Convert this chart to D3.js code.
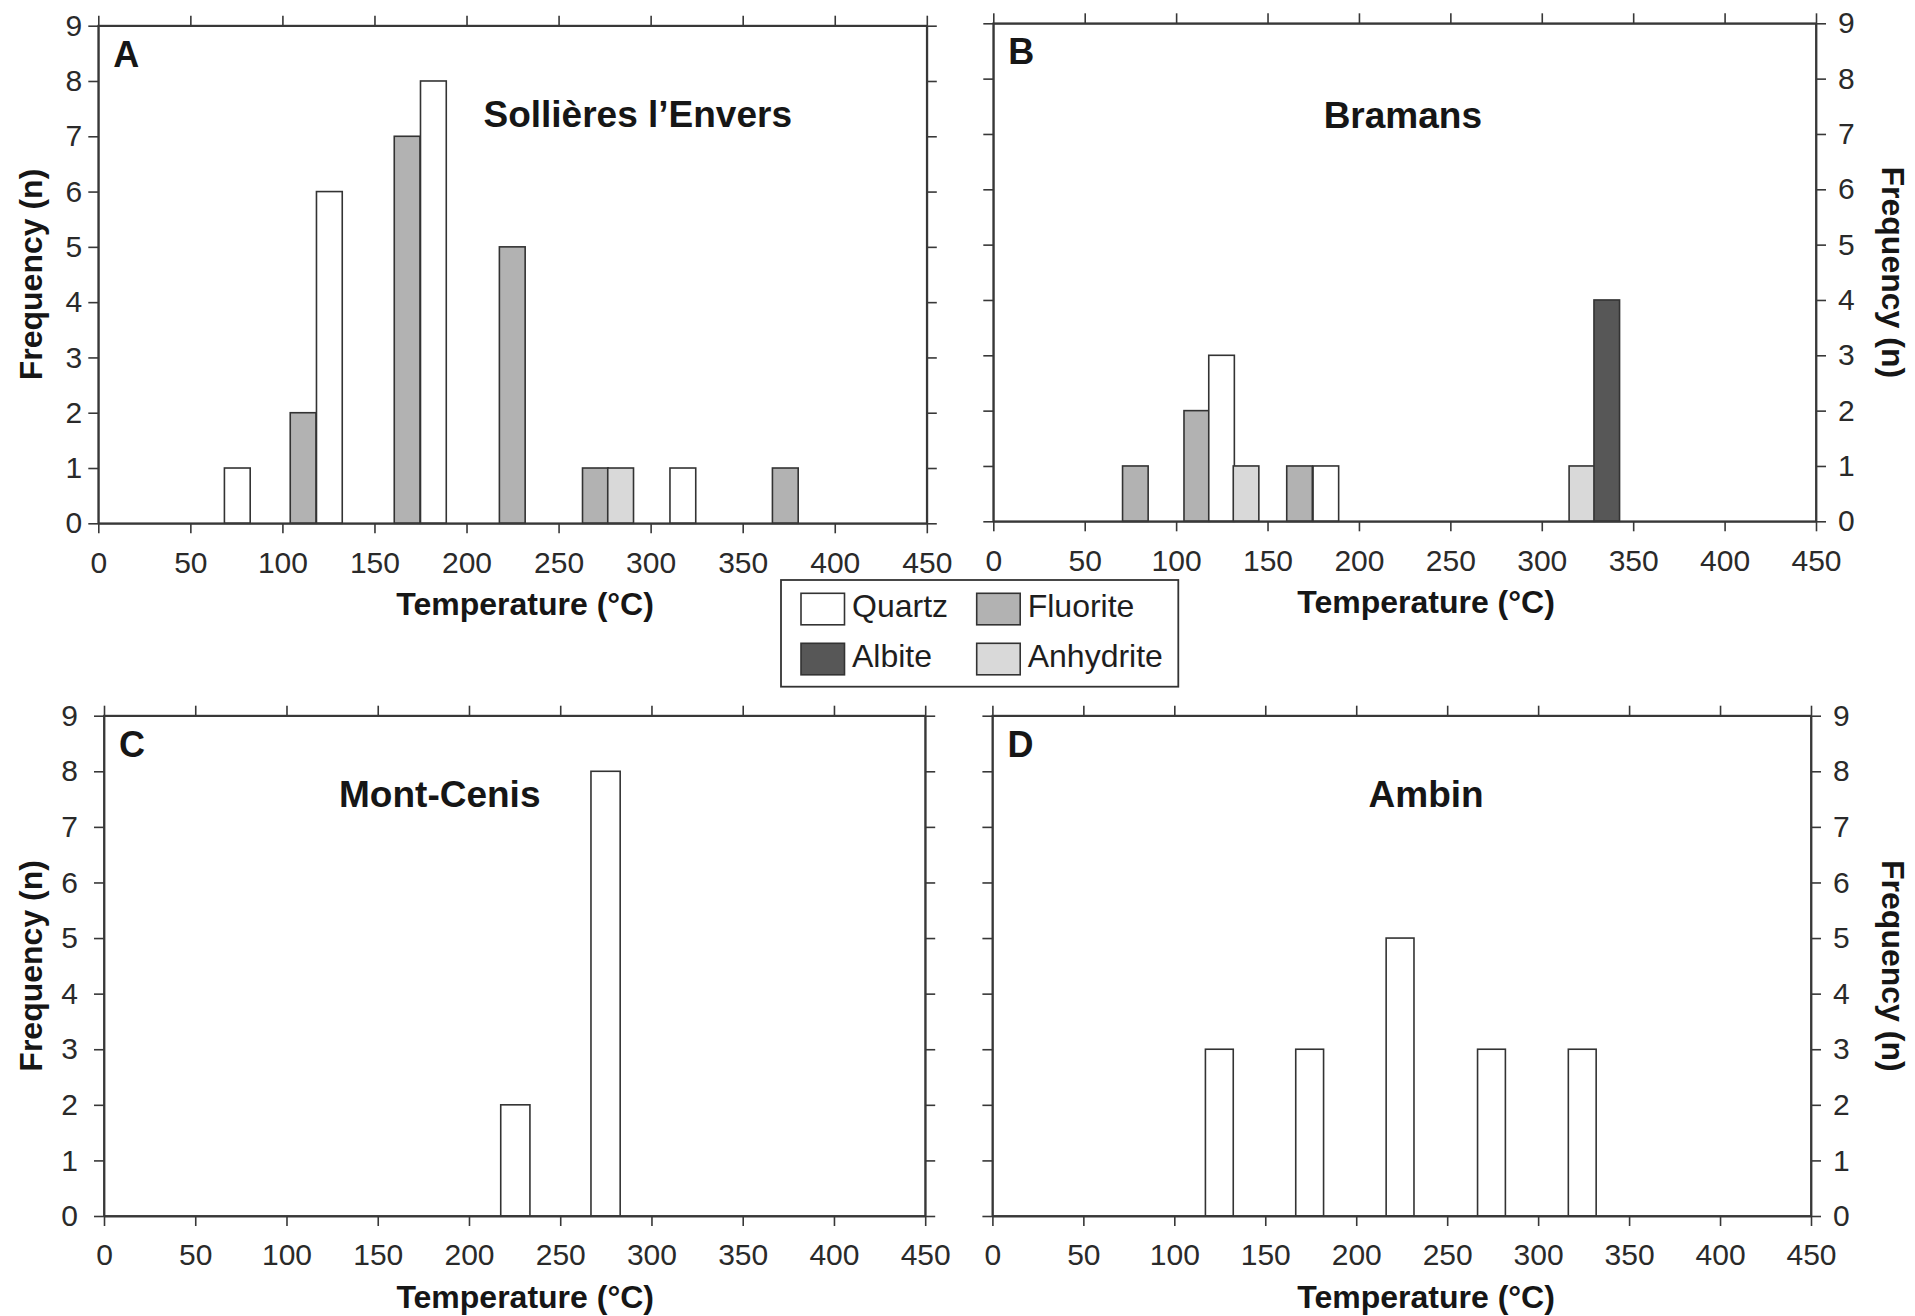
<!DOCTYPE html>
<html><head><meta charset="utf-8">
<script src="https://cdn.jsdelivr.net/npm/d3@7/dist/d3.min.js"></script>
<style>
html,body{margin:0;padding:0;background:#fff;}
svg{display:block;font-family:"Liberation Sans",Arial,Helvetica,sans-serif;}
</style></head><body>
<svg id="chart" width="1915" height="1316"></svg>
<script>
// ---------- data ----------
const minerals = ["Quartz", "Fluorite", "Albite", "Anhydrite"];
const mineralFills = ["#ffffff", "#b2b2b2", "#575757", "#d9d9d9"];
const tempTicks = [0, 50, 100, 150, 200, 250, 300, 350, 400, 450];
const freqTicks = [0, 1, 2, 3, 4, 5, 6, 7, 8, 9];

// A – Sollières l'Envers (bar centre temperature, mineral, count)
const sollieresTemp    = [75.5, 111.25, 125.5, 167.75, 182, 224.85, 270, 283.7, 317.5, 373.15];
const sollieresMineral = ["Quartz", "Fluorite", "Quartz", "Fluorite", "Quartz", "Fluorite", "Fluorite", "Anhydrite", "Quartz", "Fluorite"];
const sollieresCount   = [1, 2, 6, 7, 8, 5, 1, 1, 1, 1];

// B – Bramans
const bramansTemp    = [77.7, 111.3, 124.85, 138.25, 167.5, 181.9, 321.95, 335.55];
const bramansMineral = ["Fluorite", "Fluorite", "Quartz", "Anhydrite", "Fluorite", "Quartz", "Anhydrite", "Albite"];
const bramansCount   = [1, 2, 3, 1, 1, 1, 1, 4];

// C – Mont-Cenis
const montCenisTemp    = [225.4, 274.85];
const montCenisMineral = ["Quartz", "Quartz"];
const montCenisCount   = [2, 8];

// D – Ambin
const ambinTemp    = [124.75, 174.4, 224.1, 274.35, 324.25];
const ambinMineral = ["Quartz", "Quartz", "Quartz", "Quartz", "Quartz"];
const ambinCount   = [3, 3, 5, 3, 3];

// class widths (°C) of the bars in each panel
const classWidths = [14, 14, 16, 15.3];

const panelLetters = ["A", "B", "C", "D"];
const panelTitles = ["Sollières l’Envers", "Bramans", "Mont-Cenis", "Ambin"];
const xTitle = "Temperature (°C)";
const yTitle = "Frequency (n)";

// ---------- layout ----------
const panels = [
  {temp: sollieresTemp, mineral: sollieresMineral, count: sollieresCount,
   frame: {left: 98.3, right: 926.8, top: 25.7, bottom: 523.3}, side: "left", labelPad: 6,
   titleAt: [293, 7.17], xTitleAt: 231.8},
  {temp: bramansTemp, mineral: bramansMineral, count: bramansCount,
   frame: {left: 993.3, right: 1816, top: 23.3, bottom: 521.3}, side: "right", labelPad: 12,
   titleAt: [224, 7.11], xTitleAt: 236.7},
  {temp: montCenisTemp, mineral: montCenisMineral, count: montCenisCount,
   frame: {left: 104, right: 925.2, top: 715.7, bottom: 1216}, side: "left", labelPad: 16,
   titleAt: [184, 7.36], xTitleAt: 230.8},
  {temp: ambinTemp, mineral: ambinMineral, count: ambinCount,
   frame: {left: 992.4, right: 1811, top: 715.7, bottom: 1216}, side: "right", labelPad: 12,
   titleAt: [238.4, 7.35], xTitleAt: 238.4}
];

const svg = d3.select("#chart");
const axisColor = "#383838";
const fillOf = d3.scaleOrdinal().domain(minerals).range(mineralFills);

panels.forEach((p, i) => {
  const f = p.frame;
  const x = d3.scaleLinear().domain([0, 450]).range([f.left, f.right]);
  const y = d3.scaleLinear().domain([0, 9]).range([f.bottom, f.top]);
  const w = classWidths[i];
  const g = svg.append("g");

  const bars = p.temp.map((t, k) => ({t, m: p.mineral[k], n: p.count[k]}));
  g.selectAll("rect.bar").data(bars).join("rect")
    .attr("class", "bar")
    .attr("x", d => x(d.t - w / 2))
    .attr("width", d => x(d.t + w / 2) - x(d.t - w / 2))
    .attr("y", d => y(d.n))
    .attr("height", d => y(0) - y(d.n))
    .attr("fill", d => fillOf(d.m))
    .attr("stroke", "#333")
    .attr("stroke-width", 1.6);

  // frame
  g.append("rect")
    .attr("x", f.left).attr("y", f.top)
    .attr("width", f.right - f.left).attr("height", f.bottom - f.top)
    .attr("fill", "none").attr("stroke", axisColor).attr("stroke-width", 1.8);

  const styleAxis = sel => {
    sel.select(".domain").attr("stroke", axisColor).attr("stroke-width", 1.8);
    sel.selectAll(".tick line").attr("stroke", axisColor).attr("stroke-width", 1.6);
    sel.selectAll(".tick text").attr("fill", "#2a2a2a").attr("font-size", 30)
      .attr("font-family", '"Liberation Sans",Arial,sans-serif');
  };

  g.append("g").attr("transform", `translate(0,${f.bottom})`)
    .call(d3.axisBottom(x).tickValues(tempTicks).tickSize(10).tickSizeOuter(0).tickPadding(18))
    .call(styleAxis);
  g.append("g").attr("transform", `translate(0,${f.top})`)
    .call(d3.axisTop(x).tickValues(tempTicks).tickSize(10).tickSizeOuter(0).tickFormat(""))
    .call(styleAxis);
  g.append("g").attr("transform", `translate(${f.left},0)`)
    .call(d3.axisLeft(y).tickValues(freqTicks).tickSize(10).tickSizeOuter(0).tickPadding(p.labelPad)
      .tickFormat(p.side === "left" ? d3.format("d") : ""))
    .call(styleAxis);
  g.append("g").attr("transform", `translate(${f.right},0)`)
    .call(d3.axisRight(y).tickValues(freqTicks).tickSize(10).tickSizeOuter(0).tickPadding(p.labelPad)
      .tickFormat(p.side === "right" ? d3.format("d") : ""))
    .call(styleAxis);

  // panel letter
  g.append("text").attr("x", f.left + 15).attr("y", f.top + 41)
    .attr("font-size", 36).attr("font-weight", "bold").attr("fill", "#161616")
    .text(panelLetters[i]);

  // site title
  g.append("text").attr("x", x(p.titleAt[0])).attr("y", y(p.titleAt[1]))
    .attr("text-anchor", "middle").attr("font-size", 37).attr("font-weight", "bold")
    .attr("fill", "#161616").text(panelTitles[i]);

  // x title
  g.append("text").attr("x", x(p.xTitleAt)).attr("y", f.bottom + 92)
    .attr("text-anchor", "middle").attr("font-size", 32).attr("font-weight", "bold")
    .attr("fill", "#161616").text(xTitle);

  // y title
  const cy = (f.top + f.bottom) / 2;
  if (p.side === "left") {
    g.append("text").attr("transform", `translate(41.5,${cy}) rotate(-90)`)
      .attr("text-anchor", "middle").attr("font-size", 32).attr("font-weight", "bold")
      .attr("fill", "#161616").text(yTitle);
  } else {
    g.append("text").attr("transform", `translate(1882,${cy}) rotate(90)`)
      .attr("text-anchor", "middle").attr("font-size", 32).attr("font-weight", "bold")
      .attr("fill", "#161616").text(yTitle);
  }
});

// ---------- legend ----------
const legend = svg.append("g");
legend.append("rect").attr("x", 781).attr("y", 580).attr("width", 397.3).attr("height", 106.7)
  .attr("fill", "#fff").attr("stroke", "#333").attr("stroke-width", 1.8);
const legendCols = [801, 976.7];
const legendRows = [593.3, 643.3];
minerals.forEach((m, k) => {
  const sx = legendCols[k % 2], sy = legendRows[Math.floor(k / 2)];
  legend.append("rect").attr("x", sx).attr("y", sy).attr("width", 43.5).attr("height", 31.5)
    .attr("fill", fillOf(m)).attr("stroke", "#333").attr("stroke-width", 1.6);
  legend.append("text").attr("x", sx + 51).attr("y", sy + 24)
    .attr("font-size", 32).attr("fill", "#1e1e1e").text(m);
});
</script>
</body></html>
